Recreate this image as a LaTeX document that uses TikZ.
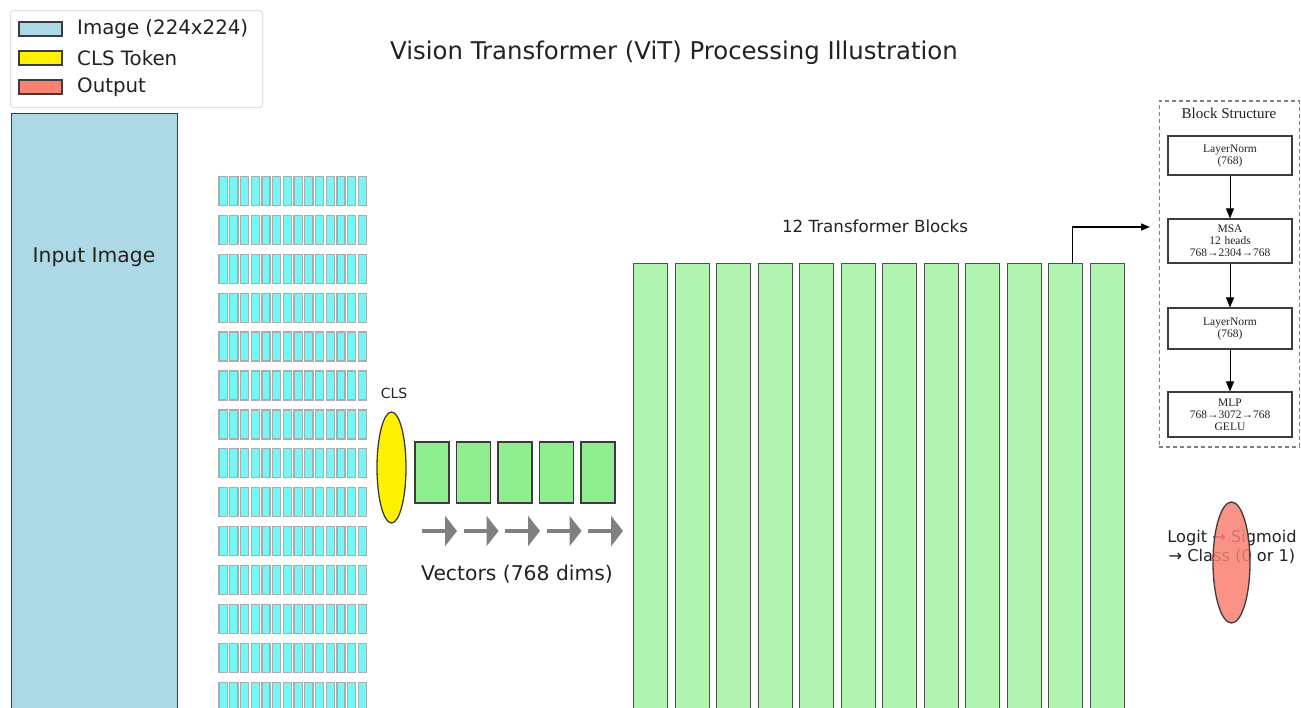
\documentclass[tikz,border=0pt]{standalone}
\usepackage{fontspec}
\setmainfont{DejaVu Sans}
\newfontfamily\bsserif{Liberation Serif}
\usetikzlibrary{arrows.meta,shapes.geometric}
\definecolor{imgblue}{HTML}{ADD8E6}
\definecolor{patchcyan}{HTML}{74F7F7}
\definecolor{vecgreen}{HTML}{90EE90}
\definecolor{blkgreen}{HTML}{B1F3B1}
\definecolor{outred}{HTML}{FA8072}
\definecolor{edgegray}{HTML}{3C3C3C}
\definecolor{txtdark}{HTML}{222222}
\begin{document}
\begin{tikzpicture}[x=1pt,y=-1pt,
  txt/.style={text=txtdark, inner sep=0pt},
  legpatch/.style={draw=edgegray, line width=1.2pt},
  patchbar/.style={fill=patchcyan, draw=gray!65, line width=1.3pt},
  vecbox/.style={rectangle, draw=edgegray, line width=1.3pt, fill=vecgreen, minimum width=34pt, minimum height=61pt, inner sep=0pt},
  blkbox/.style={rectangle, draw=edgegray!90, line width=1.4pt, fill=blkgreen, minimum width=34pt, minimum height=470pt, inner sep=0pt, anchor=north west},
  vecarrow/.style={draw=gray, line width=3.2pt, -{Triangle[length=12pt,width=30pt]}},
  bsbox/.style={rectangle, draw=edgegray, line width=1.1pt, fill=white, minimum width=124pt, text width=122pt, align=center, inner sep=0pt, font=\bsserif\fontsize{11.5}{12}\selectfont, text=txtdark},
  bsarrow/.style={draw=black, line width=1pt, -{Triangle[length=10pt,width=8pt]}}
]
\useasboundingbox (0,0) rectangle (1301,707);
\clip (0,0) rectangle (1301,707);
\fill[white] (0,0) rectangle (1301,707);

% title
\node[txt, font=\fontsize{24.4}{28}\selectfont] (title) at (674,53) {Vision Transformer (ViT) Processing Illustration};

% legend
\node[draw=gray!25, line width=1pt, rounded corners=3pt, minimum width=252pt, minimum height=97pt, anchor=north west, inner sep=0pt] (legend) at (10,10) {};
\draw[legpatch, fill=imgblue] (19,22) rectangle (62,36);
\draw[legpatch, fill=yellow] (19,51) rectangle (62,65);
\draw[legpatch, fill=outred] (19,80) rectangle (62,94);
\node[txt, anchor=west, font=\fontsize{19.8}{22}\selectfont] (l1) at (77,29) {Image (224x224)};
\node[txt, anchor=west, font=\fontsize{19.8}{22}\selectfont] (l2) at (77,58) {CLS Token};
\node[txt, anchor=west, font=\fontsize{19.8}{22}\selectfont] (l3) at (77,87) {Output};

% input image
\node[rectangle, draw=edgegray, line width=1.4pt, fill=imgblue, minimum width=166pt, minimum height=640pt, anchor=north west, inner sep=0pt] (img) at (11,113) {};
\node[txt, font=\fontsize{20.3}{22}\selectfont] (imgtxt) at (94,257) {Input Image};

% patches
\foreach \r in {0,...,13}{
  \foreach \c in {0,...,13}{
    \draw[patchbar] (219+\c*10.72,176.5+\r*38.9) rectangle ++(8.2,29);
  }
}

% CLS token
\node[ellipse, draw=edgegray, line width=1.3pt, fill=yellow, minimum width=29pt, minimum height=111pt, inner sep=0pt] (cls) at (391.5,467.5) {};
\node[txt, font=\fontsize{14}{16}\selectfont] (clstxt) at (394,393) {CLS};

% vectors
\foreach \i in {0,...,4}{
  \node[vecbox] (v\i) at (432+\i*41.5,472.5) {};
  \coordinate (as\i) at (422+\i*41.5,531);
  \coordinate (ae\i) at (457+\i*41.5,531);
  \draw[vecarrow] (as\i) -- (ae\i);
}
\node[txt, font=\fontsize{20.3}{22}\selectfont] (vectxt) at (517,574) {Vectors (768 dims)};

% transformer blocks
\foreach \i in {0,...,11}{
  \node[blkbox] (b\i) at (633+\i*41.5,263) {};
}
\node[txt, font=\fontsize{16.7}{19}\selectfont] (blktxt) at (875,226) {12 Transformer Blocks};

% arrow to block structure
\coordinate (bsin) at (1150,227);
\draw[black, line width=1.5pt, -{Triangle[length=9pt,width=7pt]}] ([xshift=7pt]b10.north) |- (bsin);

% block structure
\node[rectangle, draw=gray, dashed, dash pattern=on 4pt off 3pt, line width=1.6pt, minimum width=140pt, minimum height=346pt, anchor=north west, inner sep=0pt] (bs) at (1158.5,100) {};
\node[txt, font=\bsserif\fontsize{15}{16}\selectfont] (bstitle) at (1229,113) {Block Structure};
\node[bsbox, minimum height=39pt] (ln1) at (1230,155.5) {LayerNorm\\(768)};
\node[bsbox, minimum height=44pt] (msa) at (1230,241) {MSA\\12 heads\\768→2304→768};
\node[bsbox, minimum height=41pt] (ln2) at (1230,328.5) {LayerNorm\\(768)};
\node[bsbox, minimum height=45pt] (mlp) at (1230,414.5) {MLP\\768→3072→768\\GELU};
\draw[bsarrow] (ln1) -- (msa);
\draw[bsarrow] (msa) -- (ln2);
\draw[bsarrow] (ln2) -- (mlp);

% output
\node[txt, align=center, font=\fontsize{16.2}{18.5}\selectfont] (outtxt) at (1232,547) {Logit → Sigmoid\\→ Class (0 or 1)};
\node[ellipse, draw=edgegray, line width=1.3pt, fill=outred, fill opacity=0.85, minimum width=37pt, minimum height=121pt, inner sep=0pt] (out) at (1231.5,562.5) {};
\end{tikzpicture}
\end{document}
